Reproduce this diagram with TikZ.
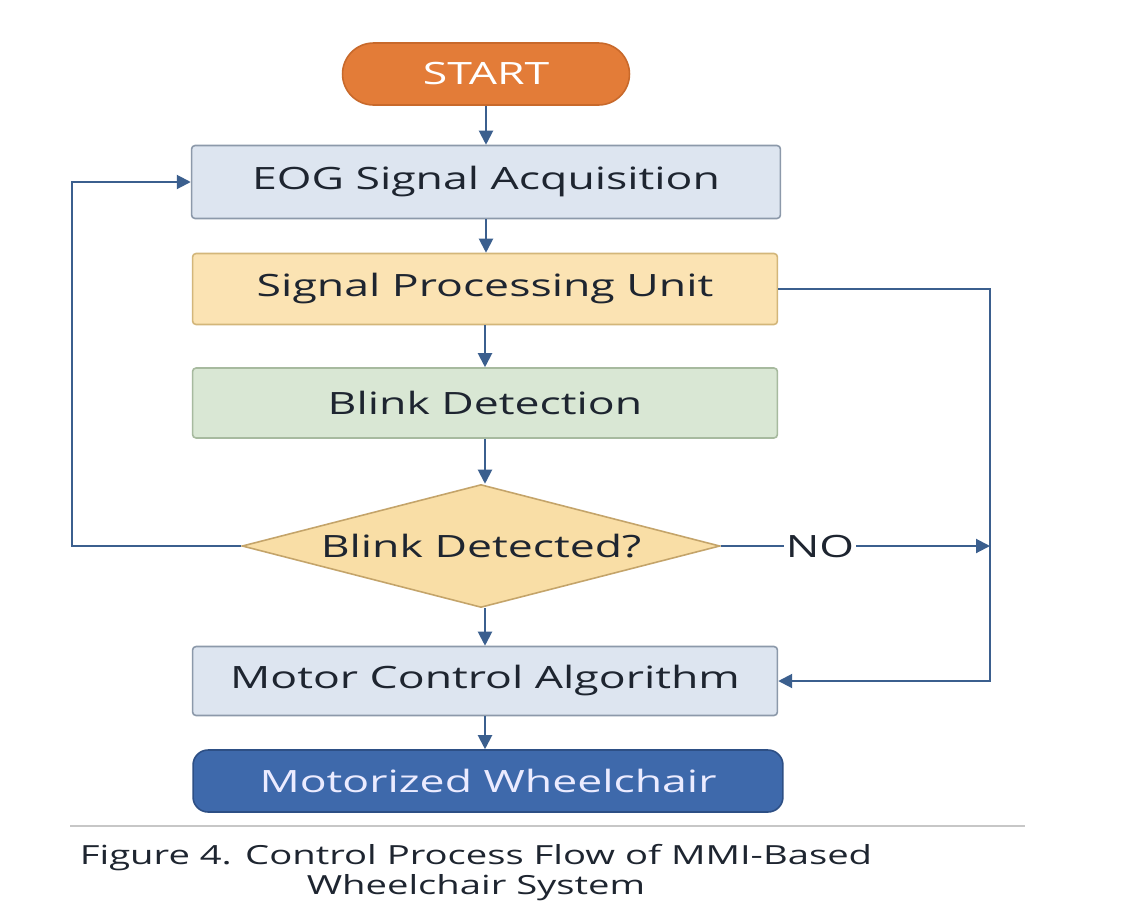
\documentclass[tikz,border=0pt]{standalone}
\usepackage{fontspec}
\setmainfont{Open Sans}[FakeStretch=1.45]
\usepackage{xcolor}
\usetikzlibrary{arrows.meta,positioning,shapes.geometric,calc}
\definecolor{arrblue}{HTML}{3B5F8E}
\definecolor{txtdark}{HTML}{1E2530}
\definecolor{startfill}{HTML}{E37C38}
\definecolor{startline}{HTML}{C8692B}
\definecolor{bluefill}{HTML}{DDE5F0}
\definecolor{blueline}{HTML}{8C99AA}
\definecolor{yelfill}{HTML}{FBE3B3}
\definecolor{yelline}{HTML}{D3B67A}
\definecolor{grnfill}{HTML}{D9E7D4}
\definecolor{grnline}{HTML}{A7BA9F}
\definecolor{decfill}{HTML}{F9DEA6}
\definecolor{decline}{HTML}{C4A46A}
\definecolor{chairfill}{HTML}{3E69AB}
\definecolor{chairline}{HTML}{2D4F85}
\newcommand{\boxfont}{\fontsize{17.5}{21}\selectfont}
\tikzset{
  box/.style={draw=blueline,line width=0.9pt,rounded corners=2pt,align=center,
              font=\boxfont,text=txtdark,minimum width=11.7cm,minimum height=1.42cm},
  arr/.style={-{Triangle[length=0.28cm,width=0.28cm]},draw=arrblue,line width=1.15pt},
  ln/.style={draw=arrblue,line width=1.15pt},
  bbox/.style={box,fill=bluefill},
  ybox/.style={box,fill=yelfill,draw=yelline},
  gbox/.style={box,fill=grnfill,draw=grnline},
  termbox/.style={box,rounded corners=0.62cm,minimum height=1.24cm,text=white},
  decbox/.style={diamond,aspect=3.9,draw=decline,fill=decfill,line width=0.9pt,font=\boxfont,
                 text=txtdark,inner sep=0pt,minimum width=9.56cm,minimum height=2.46cm},
}

\begin{document}
\begin{tikzpicture}[x=0.02cm,y=-0.02cm]
\useasboundingbox[fill=white] (0,0) rectangle (1123,900);

% flow nodes
\node[termbox,fill=startfill,draw=startline,minimum width=5.74cm] (start) at (486,74) {START};
\node[bbox,minimum height=1.46cm,minimum width=11.78cm] (eog) at (486,182) {EOG Signal Acquisition};
\node[ybox] (spu) at (485,289) {Signal Processing Unit};
\node[gbox,minimum height=1.4cm] (blink) at (485,403) {Blink Detection};
\node[decbox] (dec) at (481,546) {Blink Detected?};
\node[bbox,minimum height=1.38cm] (mca) at (485,681) {Motor Control Algorithm};
\node[termbox,fill=chairfill,draw=chairline,minimum width=11.8cm,rounded corners=0.3cm,
      text=white!92!blue] (chair) at (488,781) {Motorized Wheelchair};

% main column
\draw[arr] (start.south -| eog) -- (eog.north);
\draw[arr] (eog.south) -- (eog.south |- spu.north);
\draw[arr] (spu.south) -- (spu.south |- blink.north);
\draw[arr] (blink.south) -- (blink.south |- dec.north);
\draw[arr] (dec.south -| mca) -- (mca.north);
\draw[arr] (mca.south) -- (mca.south |- chair.north);

% loop back
\coordinate (lft) at (72,546);
\draw[arr] (dec.west) -- (lft) |- (eog.west);

% bypass on the right
\coordinate (rgt) at (990,289);
\coordinate (rmid) at (990,546);
\draw[arr] (spu.east) -- (rgt) |- (mca.east);
\node[font=\boxfont,text=txtdark,inner sep=1pt] (no) at (820,546) {NO};
\draw[ln] (dec.east) -- (no.west);
\draw[arr] (no.east) -- (rmid);

% caption
\draw[black!22,line width=0.8pt] (70,826) -- (1025,826);
\node[font=\fontsize{15}{17}\selectfont,text=txtdark,align=center] (cap) at (476,873)
  {Figure 4. Control Process Flow of MMI-Based\\Wheelchair System};
\end{tikzpicture}
\end{document}
